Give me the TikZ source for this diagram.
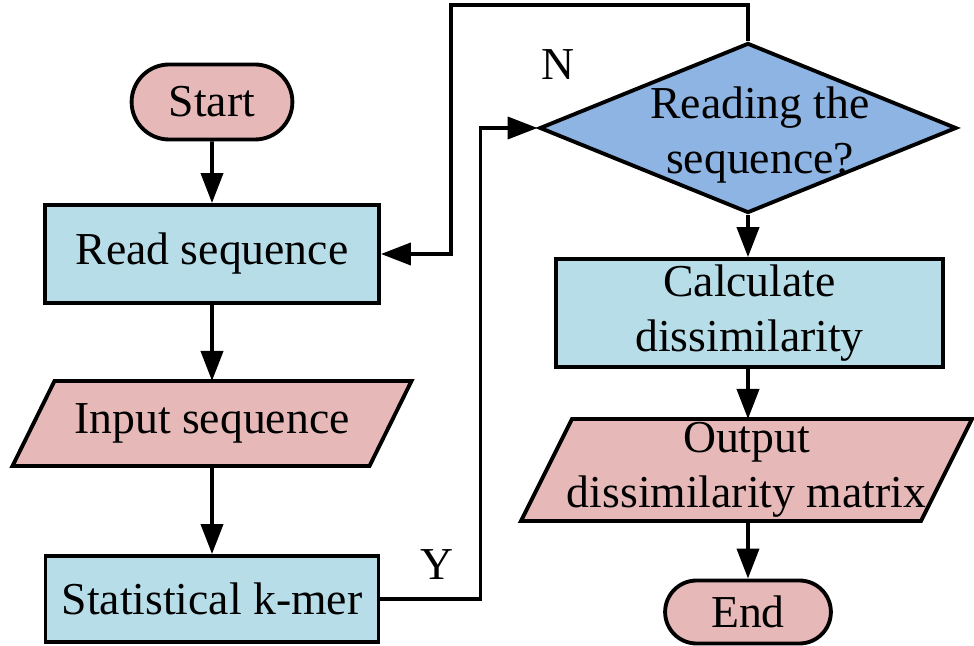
\documentclass[tikz,border=0pt]{standalone}
\usepackage{fontspec}
\setmainfont{Liberation Serif}
\usetikzlibrary{shapes.geometric,shapes.misc,arrows.meta,calc,backgrounds}

\definecolor{termpink}{HTML}{E6B9B8}
\definecolor{procblue}{HTML}{B7DEE8}
\definecolor{decblue}{HTML}{8DB4E2}

% parallelogram drawn round a node: name, slant
\newcommand{\ioshape}[2]{%
  \draw[iofill] ($(#1.north west)+(#2,0)$) -- (#1.north east)
    -- ($(#1.south east)-(#2,0)$) -- (#1.south west) -- cycle;}

\begin{document}
\begin{tikzpicture}[
    every node/.style={font=\fontsize{26}{31}\selectfont},
    termbox/.style={rounded rectangle, draw=black, line width=2.2pt, fill=termpink},
    procbox/.style={rectangle, draw=black, line width=2.2pt, fill=procblue, align=center},
    iobox/.style={rectangle, align=center, inner sep=0pt, outer sep=0pt},
    iofill/.style={draw=black, line width=2.2pt, fill=termpink, line join=miter},
    decbox/.style={diamond, draw=black, line width=2.2pt, fill=decblue, inner sep=0pt},
    arr/.style={line width=2.2pt, -{Triangle[length=0.6cm,width=0.44cm]}},
    flag/.style={font=\fontsize{26}{31}\selectfont}
]
  \useasboundingbox (0,0) rectangle (19.48,12.9);

  % left column
  \node[termbox, minimum width=3.45cm, minimum height=1.5cm] (start) at (4.24, 10.86) {Start};
  \node[procbox, minimum width=6.68cm, minimum height=1.96cm] (read) at (4.24, 7.82) {Read sequence};
  \node[iobox, minimum width=7.98cm, minimum height=1.7cm] (input) at (4.24, 4.43) {Input sequence};
  \node[procbox, minimum width=6.66cm, minimum height=1.72cm] (kmer) at (4.24, 0.92) {Statistical k-mer};

  % right column
  \node[decbox, minimum width=8.34cm, minimum height=3.4cm] (dec) at (14.96, 10.34) {};
  \node[align=center] (dectext) at (15.2, 10.2) {Reading the\\sequence?};
  \node[procbox, minimum width=7.74cm, minimum height=2.0cm] (calc) at (14.99, 6.64) {Calculate\\dissimilarity};
  \node[iobox, minimum width=9.02cm, minimum height=2.04cm] (out) at (14.93, 3.5) {Output\\dissimilarity matrix};
  \node[termbox, minimum width=3.55cm, minimum height=1.26cm] (end) at (14.96, 0.66) {End};

  \begin{scope}[on background layer]
    \ioshape{input}{0.84cm}
    \ioshape{out}{1.02cm}
  \end{scope}

  % branch labels
  \node[flag] (nlabel) at (11.16, 11.6) {N};
  \node[flag] (ylabel) at (8.74, 1.6) {Y};

  % connectors
  \draw[arr] (start) -- (read);
  \draw[arr] (read) -- (input);
  \draw[arr] (input) -- (kmer);
  \draw[arr] (kmer.east) -- ++(2.0,0) |- (dec.west);
  \draw[arr] (dec.north) -- ++(0,0.72) -| ([xshift=1.4cm]read.east) -- (read.east);
  \draw[arr] (dec.south) -- (dec.south |- calc.north);
  \draw[arr] (calc.south -| dec.south) -- (dec.south |- out.north);
  \draw[arr] (dec.south |- out.south) -- (dec.south |- end.north);

\end{tikzpicture}
\end{document}
